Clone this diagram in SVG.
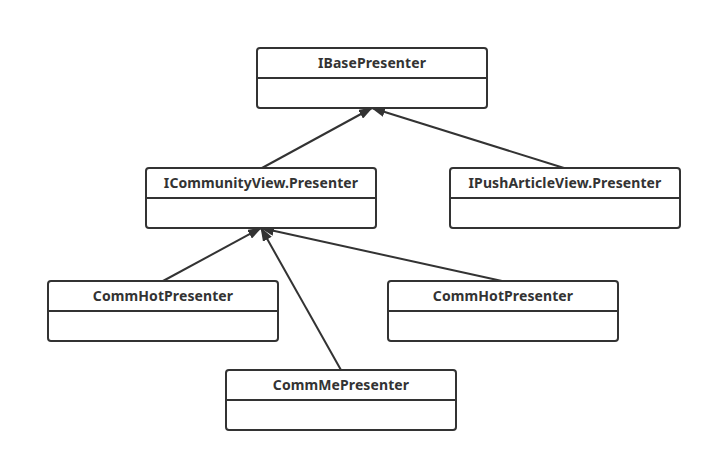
<svg xmlns="http://www.w3.org/2000/svg" width="711" height="461" viewBox="0 0 711 461">
<style>
.box{fill:#fff;stroke:#333;stroke-width:2}
.div{stroke:#333;stroke-width:2}
.lbl{font-family:"Noto Sans","Open Sans","DejaVu Sans",sans-serif;font-weight:bold;font-size:14px;letter-spacing:0.1px;fill:#333;text-anchor:middle}
.edge{stroke:#333;stroke-width:2;fill:none}
</style>
<defs>
<marker id="tri" viewBox="0 0 14 10" refX="13" refY="5" markerWidth="14" markerHeight="10" markerUnits="userSpaceOnUse" orient="auto">
<path d="M0,0 L14,5 L0,10 Z" fill="#333"/>
</marker>
</defs>
<rect width="711" height="461" fill="#fff"/>
<g id="connectors">
<line class="edge" x1="262" y1="168" x2="372" y2="108" marker-end="url(#tri)"/>
<line class="edge" x1="564" y1="168" x2="372" y2="108" marker-end="url(#tri)"/>
<line class="edge" x1="163" y1="281" x2="261" y2="228" marker-end="url(#tri)"/>
<line class="edge" x1="341" y1="370" x2="261" y2="228" marker-end="url(#tri)"/>
<line class="edge" x1="502" y1="281" x2="261" y2="228" marker-end="url(#tri)"/>
</g>
<g id="IBasePresenter">
<rect class="box" x="257" y="48" width="230" height="60" rx="3"/>
<line class="div" x1="257" y1="78" x2="487" y2="78"/>
<text class="lbl" x="372" y="68">IBasePresenter</text>
</g>
<g id="ICommunityViewPresenter">
<rect class="box" x="146" y="168" width="230" height="60" rx="3"/>
<line class="div" x1="146" y1="198" x2="376" y2="198"/>
<text class="lbl" x="261" y="188">ICommunityView.Presenter</text>
</g>
<g id="IPushArticleViewPresenter">
<rect class="box" x="450" y="168" width="230" height="60" rx="3"/>
<line class="div" x1="450" y1="198" x2="680" y2="198"/>
<text class="lbl" x="565" y="188">IPushArticleView.Presenter</text>
</g>
<g id="CommHotPresenterLeft">
<rect class="box" x="48" y="281" width="230" height="60" rx="3"/>
<line class="div" x1="48" y1="311" x2="278" y2="311"/>
<text class="lbl" x="163" y="301">CommHotPresenter</text>
</g>
<g id="CommHotPresenterRight">
<rect class="box" x="388" y="281" width="230" height="60" rx="3"/>
<line class="div" x1="388" y1="311" x2="618" y2="311"/>
<text class="lbl" x="503" y="301">CommHotPresenter</text>
</g>
<g id="CommMePresenter">
<rect class="box" x="226" y="370" width="230" height="60" rx="3"/>
<line class="div" x1="226" y1="400" x2="456" y2="400"/>
<text class="lbl" x="341" y="390">CommMePresenter</text>
</g>
</svg>
